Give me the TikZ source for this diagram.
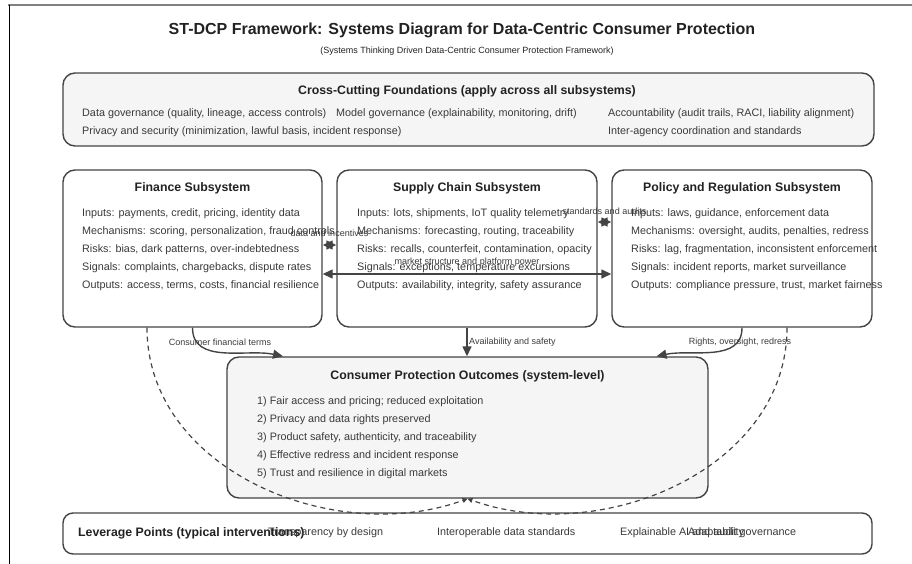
\documentclass[tikz,border=0pt]{standalone}
\usepackage{fontspec}
\setmainfont{Liberation Sans}
\usepackage{xcolor}
\usepackage{tikz}
\usetikzlibrary{arrows.meta}
\usetikzlibrary{positioning}

\definecolor{edgegray}{HTML}{444444}
\definecolor{ink}{HTML}{222222}
\definecolor{bodytext}{HTML}{3A3A3A}
\definecolor{panel}{HTML}{F5F5F5}

\begin{document}
\begin{tikzpicture}[
  x=1pt, y=1pt,
  box/.style={draw=edgegray, line width=1.4pt, rounded corners=12pt, fill=white},
  panelbox/.style={box, fill=panel},
  boxtitle/.style={font=\bfseries\fontsize{12.3}{14}\selectfont, text=ink},
  boxtext/.style={anchor=north west, align=left, inner sep=0pt, text=bodytext, font=\fontsize{10.8}{18}\selectfont},
  flowlabel/.style={font=\fontsize{9}{10}\selectfont, text=bodytext, inner sep=1pt},
  flow/.style={->, draw=edgegray, line width=1.4pt},
  link/.style={<->, draw=edgegray, line width=1.4pt},
  feedback/.style={-{Triangle[length=5pt, width=5pt]}, draw=edgegray, line width=1.2pt, dash pattern=on 5pt off 4pt},
]
\tikzset{>={Triangle[length=10pt, width=9pt]}}

\useasboundingbox (0,0) rectangle (912,-564);

% page frame
\draw[draw=gray, line width=1.5pt] (8,-5) -- (912,-5);
\draw[draw=black, line width=0.8pt] (9,-5) -- (9,-564);

% Title
\node[font=\bfseries\fontsize{16}{20}\selectfont, text=ink] (title) at (462,-30)
  {ST-DCP Framework: Systems Diagram for Data-Centric Consumer Protection};
\node[font=\fontsize{9}{10}\selectfont, text=ink] (subtitle) at (467,-51)
  {(Systems Thinking Driven Data-Centric Consumer Protection Framework)};

% Foundations (top band)
\node[panelbox, minimum width=811pt, minimum height=73pt] (found) at (468.5,-109.5) {};
\node[boxtitle] (foundtitle) at (467,-91) {Cross-Cutting Foundations (apply across all subsystems)};
\node[boxtext] (foundA) at (82,-108)
  {Data governance (quality, lineage, access controls)\\
   Privacy and security (minimization, lawful basis, incident response)};
\node[boxtext] (foundB) at (336,-108)
  {Model governance (explainability, monitoring, drift)};
\node[boxtext] (foundC) at (608,-108)
  {Accountability (audit trails, RACI, liability alignment)\\
   Inter-agency coordination and standards};

% Subsystems
\node[box, minimum width=259pt, minimum height=157pt] (fin)    at (192.5,-248.5) {};
\node[box, minimum width=260pt, minimum height=157pt] (supply) at (467,-248.5) {};
\node[box, minimum width=260pt, minimum height=157pt] (pol)    at (742,-248.5) {};

\node[boxtitle] (fintitle)    at (192.5,-188.5) {Finance Subsystem};
\node[boxtitle] (supplytitle) at (467,-188.5)   {Supply Chain Subsystem};
\node[boxtitle] (poltitle)    at (742,-188.5)   {Policy and Regulation Subsystem};

\node[boxtext] (fintext) at (82,-208)
  {Inputs: payments, credit, pricing, identity data\\
   Mechanisms: scoring, personalization, fraud controls\\
   Risks: bias, dark patterns, over-indebtedness\\
   Signals: complaints, chargebacks, dispute rates\\
   Outputs: access, terms, costs, financial resilience};
\node[boxtext] (supplytext) at (357,-208)
  {Inputs: lots, shipments, IoT quality telemetry\\
   Mechanisms: forecasting, routing, traceability\\
   Risks: recalls, counterfeit, contamination, opacity\\
   Signals: exceptions, temperature excursions\\
   Outputs: availability, integrity, safety assurance};
\node[boxtext] (poltext) at (631,-208)
  {Inputs: laws, guidance, enforcement data\\
   Mechanisms: oversight, audits, penalties, redress\\
   Risks: lag, fragmentation, inconsistent enforcement\\
   Signals: incident reports, market surveillance\\
   Outputs: compliance pressure, trust, market fairness};

% Outcomes
\node[panelbox, minimum width=481pt, minimum height=141pt] (outc) at (467.5,-427.5) {};
\node[boxtitle] (outctitle) at (467.5,-376) {Consumer Protection Outcomes (system-level)};
\node[boxtext] (outctext) at (257,-396)
  {1) Fair access and pricing; reduced exploitation\\
   2) Privacy and data rights preserved\\
   3) Product safety, authenticity, and traceability\\
   4) Effective redress and incident response\\
   5) Trust and resilience in digital markets};

% Leverage points
\node[box, rounded corners=10pt, minimum width=809pt, minimum height=41pt] (lev) at (467.5,-533.5) {};
\node[boxtitle, anchor=west, inner sep=0pt] (levtitle) at (78,-533) {Leverage Points (typical interventions)};
\node[boxtext, anchor=west] (levA) at (268,-533) {Transparency by design};
\node[boxtext, anchor=west] (levB) at (437,-533) {Interoperable data standards};
\node[boxtext, anchor=west] (levC) at (620,-533) {Explainable AI and audit governance};
\node[boxtext, anchor=center] (levD) at (716,-533) {Adaptability};

% Flows into outcomes
\draw[flow] (fin.south) to[out=-90, in=168] ([xshift=-184.5pt]outc.north);
\draw[flow] (supply.south) -- (supply.south |- outc.north);
\draw[flow] (pol.south) to[out=-90, in=12] ([xshift=189pt]outc.north);

\node[flowlabel] (lblfin) at (220,-342) {Consumer financial terms};
\node[flowlabel, anchor=west] (lblsupply) at (468,-342) {Availability and safety};
\node[flowlabel] (lblpol) at (740,-342) {Rights, oversight, redress};

% Links between subsystems
\draw[link] ([yshift=3.5pt]fin.east) -- ([yshift=3.5pt]supply.west);
\draw[link] ([yshift=26.5pt]supply.east) -- ([yshift=26.5pt]pol.west);
\draw[link] ([yshift=-25.5pt]fin.east) -- ([yshift=-25.5pt]pol.west);

\node[flowlabel] (lbldata)   at (329.5,-233) {data and incentives};
\node[flowlabel] (lblstd)    at (604.5,-211) {standards and audits};
\node[flowlabel] (lblmarket) at (467,-262)   {market structure and platform power};

% Feedback loops (dashed)
\draw[feedback] ([xshift=-45.5pt]fin.south) to[out=-90, in=-160] (outc.south);
\draw[feedback] ([xshift=45pt]pol.south) to[out=-90, in=-20] (outc.south);

\end{tikzpicture}
\end{document}
